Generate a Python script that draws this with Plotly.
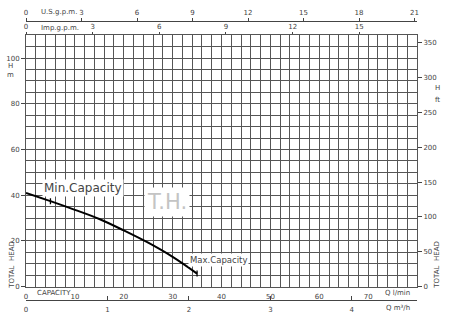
import plotly.graph_objects as go

# ---- data ----
flow_lpm = [0, 5, 10, 15, 20, 25, 30, 35]
head_m = [41.0, 37.4, 33.6, 29.6, 24.6, 19.2, 13.0, 5.7]
min_capacity_lpm = 5
max_capacity_lpm = 35

lpm_ticks = [0, 10, 20, 30, 40, 50, 60, 70]
m3h_ticks = [0, 1, 2, 3, 4]
usgpm_ticks = [0, 3, 6, 9, 12, 15, 18, 21]
impgpm_ticks = [0, 3, 6, 9, 12, 15]
head_m_ticks = [0, 20, 40, 60, 80, 100]
head_ft_ticks = [0, 50, 100, 150, 200, 250, 300, 350]

Q_MAX = 80.0
H_MAX = 110.0
LPM_PER_M3H = 1000 / 60
LPM_PER_USGPM = 3.78541
LPM_PER_IMPGPM = 4.54609
M_PER_FT = 0.3048

FONT = "DejaVu Sans, sans-serif"
TXT = "#444444"
GRID = "#555555"
NOCOL = "rgba(0,0,0,0)"

W, H = 450, 324
top_px, bot_px = 35.7, 290.2
ydom = [(H - bot_px) / H, (H - top_px) / H]


def py(p):
    return (H - p) / H


def px(p):
    return (p - 26) / (W - 26 - 33)


fig = go.Figure()

fig.add_trace(go.Scatter(x=flow_lpm, y=head_m, mode="lines",
                         line=dict(color="black", width=2, shape="spline"),
                         showlegend=False, hoverinfo="skip"))


def head_at(q):
    for i in range(len(flow_lpm) - 1):
        if flow_lpm[i] <= q <= flow_lpm[i + 1]:
            t = (q - flow_lpm[i]) / (flow_lpm[i + 1] - flow_lpm[i])
            return head_m[i] + t * (head_m[i + 1] - head_m[i])
    return head_m[-1]


for q in (min_capacity_lpm, max_capacity_lpm):
    h = head_at(q)
    fig.add_trace(go.Scatter(x=[q, q], y=[h - 1.3, h + 1.3], mode="lines",
                             line=dict(color="black", width=1.3),
                             showlegend=False, hoverinfo="skip"))

# dummy traces to activate extra axes
for xa, ya in (("x2", "y"), ("x3", "y"), ("x4", "y"), ("x", "y2")):
    fig.add_trace(go.Scatter(x=[0], y=[0], xaxis=xa, yaxis=ya, mode="markers",
                             marker=dict(opacity=0), showlegend=False, hoverinfo="skip"))

tickfont = dict(family=FONT, size=7, color=TXT)

fig.update_layout(
    width=W, height=H,
    margin=dict(l=26, r=33, t=0, b=0),
    paper_bgcolor="white", plot_bgcolor="white",
    showlegend=False,
    xaxis=dict(range=[0, Q_MAX], tickvals=lpm_ticks, ticks="outside", ticklen=3,
               tickcolor=NOCOL, showgrid=True,
               gridcolor=GRID, gridwidth=1, zeroline=False,
               showline=True, linecolor=GRID, linewidth=1, mirror=True,
               tickfont=tickfont,
               minor=dict(dtick=2, tick0=0, showgrid=True, gridcolor=GRID, gridwidth=1),
               domain=[0, 1], anchor="y"),
    yaxis=dict(range=[0, H_MAX], tickvals=head_m_ticks, ticks="outside", ticklen=4,
               tickcolor=TXT, showgrid=True, gridcolor=GRID, gridwidth=1, zeroline=False,
               showline=True, linecolor=GRID, linewidth=1, mirror=True,
               tickfont=tickfont,
               minor=dict(dtick=5, tick0=0, showgrid=True, gridcolor=GRID, gridwidth=1),
               domain=ydom, anchor="x"),
    yaxis2=dict(range=[0, H_MAX / M_PER_FT], tickvals=head_ft_ticks, overlaying="y",
                side="right", anchor="x", ticks="outside", ticklen=4, tickcolor=TXT,
                showgrid=False, zeroline=False, tickfont=tickfont),
    xaxis2=dict(range=[0, Q_MAX / LPM_PER_M3H], tickvals=m3h_ticks, overlaying="x",
                anchor="free", position=py(304), side="bottom", ticks="inside",
                ticklen=4, tickcolor=TXT, showline=True, linecolor=TXT, linewidth=1,
                showgrid=False, zeroline=False, tickfont=tickfont,
                ticklabelstandoff=2),
    xaxis3=dict(range=[0, Q_MAX / LPM_PER_USGPM], tickvals=usgpm_ticks, overlaying="x",
                anchor="free", position=py(21), side="top", ticks="outside",
                ticklen=3, tickcolor=TXT, showline=True, linecolor=TXT, linewidth=1,
                showgrid=False, zeroline=False, tickfont=tickfont),
    xaxis4=dict(range=[0, Q_MAX / LPM_PER_IMPGPM], tickvals=impgpm_ticks, overlaying="x",
                anchor="y", side="top", ticks="outside", ticklen=2, tickcolor=TXT,
                showline=False, showgrid=False, zeroline=False, tickfont=tickfont),
)

ann_font = dict(family=FONT, size=7, color=TXT)
annotations = [
    dict(x=px(39), y=py(12), text="U.S.g.p.m.", xanchor="left"),
    dict(x=px(39), y=py(28), text="Imp.g.p.m.", xanchor="left"),
    dict(x=px(35), y=py(297), text="CAPACITY", xanchor="left"),
    dict(x=px(412), y=py(297), text="Q l/min", xanchor="right"),
    dict(x=px(412), y=py(312), text="Q m³/h", xanchor="right"),
    dict(x=px(10), y=py(67), text="H", xanchor="center"),
    dict(x=px(10), y=py(76), text="m", xanchor="center"),
    dict(x=px(437), y=py(89), text="H", xanchor="center"),
    dict(x=px(437), y=py(101), text="ft", xanchor="center"),
    dict(x=px(12), y=py(268), text="TOTAL  HEAD", textangle=-90, xanchor="center"),
    dict(x=px(437), y=py(268), text="TOTAL  HEAD", textangle=-90, xanchor="center"),
]
for a in annotations:
    a.update(xref="paper", yref="paper", showarrow=False, yanchor="middle", font=ann_font)
    fig.add_annotation(**a)

fig.add_annotation(x=11.6, y=43.2, xref="x", yref="y", text="Min.Capacity",
                   showarrow=False, bgcolor="white", borderpad=1,
                   font=dict(family=FONT, size=12, color=TXT))
fig.add_annotation(x=39.4, y=11.6, xref="x", yref="y", text="Max.Capacity",
                   showarrow=False, bgcolor="white", borderpad=1,
                   font=dict(family=FONT, size=8.5, color=TXT))
fig.add_annotation(x=28.9, y=37.0, xref="x", yref="y", text="T.H.",
                   showarrow=False, bgcolor="white", borderpad=2,
                   font=dict(family=FONT, size=21, color="#c4c4c4"))

fig.write_html("out.html")
